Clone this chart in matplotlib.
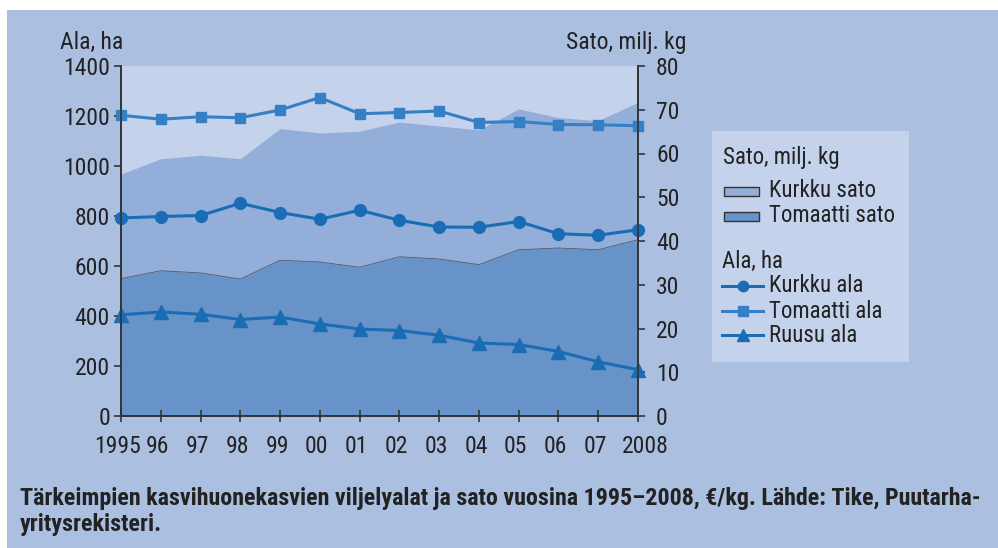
import numpy as np
import matplotlib
matplotlib.use("Agg")
import matplotlib.pyplot as plt
import matplotlib.transforms as mtransforms
from matplotlib.patches import Rectangle
from matplotlib.lines import Line2D

plt.rcParams['font.family'] = ['Roboto Condensed', 'DejaVu Sans']

# data
years = np.arange(1995, 2009)
year_labels = ['1995', '96', '97', '98', '99', '00', '01', '02', '03', '04',
               '05', '06', '07', '2008']

# sato, milj. kg (stacked areas)
tomaatti_sato = [31.4, 33.2, 32.7, 31.3, 35.6, 35.2, 34.0, 36.4, 35.9, 34.6,
                 38.0, 38.4, 38.0, 40.3]
kurkku_sato = [23.9, 25.6, 26.9, 27.5, 30.1, 29.5, 31.1, 30.8, 30.4, 30.8,
               32.2, 29.8, 29.5, 31.4]

# ala, ha
kurkku_ala = [792, 798, 802, 851, 814, 787, 823, 783, 756, 755, 778, 729, 723, 745]
tomaatti_ala = [1203, 1187, 1197, 1193, 1224, 1274, 1209, 1214, 1220, 1174,
                1178, 1166, 1165, 1161]
ruusu_ala = [405, 416, 407, 386, 396, 368, 348, 342, 323, 292, 286, 258, 217, 185]

bg = '#abbfe1'
top_fill = '#c5d2ec'
kurkku_col = '#93aed9'
tomaatti_col = '#6893c9'
line_col = '#1a6db5'
line_col2 = '#3580c4'
text_col = '#222222'
spine_col = '#333333'

W, H = 998, 548
fig = plt.figure(figsize=(W / 100, H / 100), dpi=100, facecolor='white')
fig.patches.append(Rectangle((7 / W, 0), 1 - 7 / W, 1 - 10 / H,
                             transform=fig.transFigure, facecolor=bg,
                             edgecolor='none', zorder=-10))

ax = fig.add_axes([121 / W, 1 - 416 / H, 517 / W, 350 / H])
ax2 = ax.twinx()

# stacked areas on the right axis
tom = np.array(tomaatti_sato)
tot = tom + np.array(kurkku_sato)
ax2.fill_between(years, 0, tot, color=kurkku_col, lw=0)
ax2.fill_between(years, 0, tom, color=tomaatti_col, lw=0)
ax2.plot(years, tom, color='#505a6a', lw=0.6)
ax2.patch.set_visible(True)
ax2.patch.set_facecolor(top_fill)
ax2.set_ylim(0, 80)

ax.set_zorder(ax2.get_zorder() + 1)
ax.patch.set_visible(False)

ax.plot(years, tomaatti_ala, color=line_col2, lw=2.2, marker='s', ms=7.5,
        clip_on=False)
ax.plot(years, kurkku_ala, color=line_col, lw=2.2, marker='o', ms=8.5,
        clip_on=False)
ax.plot(years, ruusu_ala, color=line_col, lw=2.2, marker='^', ms=10,
        clip_on=False)

ax.set_xlim(1995, 2008)
ax.set_ylim(0, 1400)
ax.set_yticks(np.arange(0, 1401, 200))
ax2.set_yticks(np.arange(0, 81, 10))
ax.set_xticks(years)
ax.set_xticklabels(year_labels)

for a in (ax, ax2):
    for s in a.spines.values():
        s.set_color(spine_col)
        s.set_linewidth(1.2)
    a.spines['top'].set_visible(False)
    a.tick_params(colors=spine_col, labelcolor=text_col, labelsize=17,
                  width=1.2, length=5)
ax.tick_params(axis='x', direction='inout', length=9, pad=9)
ax.tick_params(axis='y', pad=3)
ax2.tick_params(axis='y', pad=8)

# nudge the year labels like in the original
for lab in ax.get_xticklabels():
    dx = 7 if lab.get_text() == '2008' else -3
    lab.set_transform(lab.get_transform() +
                      mtransforms.ScaledTranslation(dx / 100, 0, fig.dpi_scale_trans))

fig.text(60 / W, 1 - 42 / H, 'Ala, ha', fontsize=17, color=text_col,
         va='center', ha='left')
fig.text(686 / W, 1 - 42 / H, 'Sato, milj. kg', fontsize=17,
         color=text_col, va='center', ha='right')

# legend box, drawn by hand
fig.patches.append(Rectangle((712 / W, 1 - 362 / H), 197 / W, 231 / H,
                             transform=fig.transFigure, facecolor=top_fill,
                             edgecolor='none', zorder=-5))

def fy(y):
    return 1 - y / H

leg_fs = 16.5
fig.text(723 / W, fy(158), 'Sato, milj. kg', fontsize=leg_fs, color=text_col,
         va='center')
for y, col, lab in [(191, kurkku_col, 'Kurkku sato'),
                    (216, tomaatti_col, 'Tomaatti sato')]:
    fig.patches.append(Rectangle((724 / W, fy(y + 4.5)), 35 / W, 9 / H,
                                 transform=fig.transFigure, facecolor=col,
                                 edgecolor='#333333', lw=1))
    fig.text(769 / W, fy(y), lab, fontsize=leg_fs, color=text_col, va='center')

fig.text(722 / W, fy(261), 'Ala, ha', fontsize=leg_fs, color=text_col,
         va='center')
for y, col, mk, ms, lab in [(286, line_col, 'o', 7.5, 'Kurkku ala'),
                            (311, line_col2, 's', 7, 'Tomaatti ala'),
                            (335, line_col, '^', 9, 'Ruusu ala')]:
    fig.add_artist(Line2D([722 / W, 763 / W], [fy(y), fy(y)], color=col,
                          lw=2.2, transform=fig.transFigure))
    fig.add_artist(Line2D([742.5 / W], [fy(y)], color=col, marker=mk, ms=ms,
                          lw=0, transform=fig.transFigure))
    fig.text(769 / W, fy(y), lab, fontsize=leg_fs, color=text_col, va='center')

cap1 = fig.text(20 / W, fy(498),
                'Tärkeimpien kasvihuonekasvien viljelyalat ja sato vuosina '
                '1995–2008, €/kg. Lähde: Tike, Puutarha-',
                fontsize=15, fontweight='bold', color=text_col, va='center')
cap2 = fig.text(20 / W, fy(525), 'yritysrekisteri.',
                fontsize=15, fontweight='bold', color=text_col, va='center')

# fit caption width to the original (about 20..981 px)
r = fig.canvas.get_renderer()
w = cap1.get_window_extent(r).width
fs = 15 * 961 / w
cap1.set_fontsize(fs)
cap2.set_fontsize(fs)

fig.savefig('out.png', dpi=100, facecolor='white')
